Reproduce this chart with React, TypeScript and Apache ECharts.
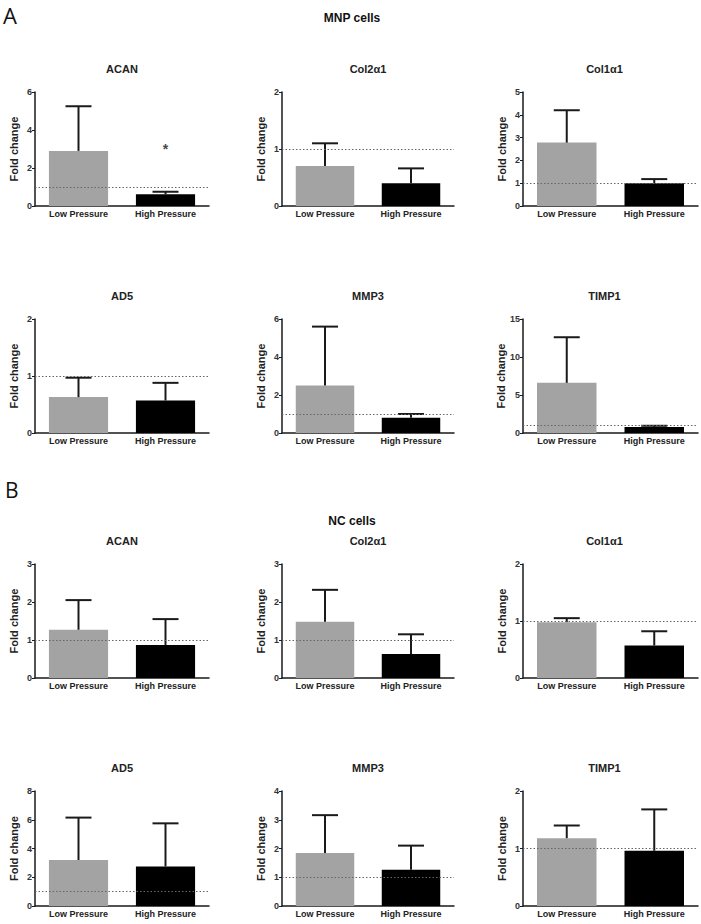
import React, { useEffect, useRef } from "react";
import * as echarts from "echarts";

const genes = ["ACAN", "Col2α1", "Col1α1", "AD5", "MMP3", "TIMP1"];
const categories = ["Low Pressure", "High Pressure"];

// MNP cells: [Low, High]
const mnpMean = [[2.9, 0.62], [0.70, 0.40], [2.78, 1.0], [0.63, 0.57], [2.5, 0.8], [6.6, 0.8]];
const mnpUpper = [[5.25, 0.75], [1.10, 0.66], [4.2, 1.18], [0.97, 0.88], [5.6, 1.0], [12.6, 0.95]];
const mnpMax = [6, 2, 5, 2, 6, 15];
const mnpInterval = [2, 1, 1, 1, 2, 5];

// NC cells: [Low, High]
const ncMean = [[1.27, 0.87], [1.48, 0.63], [0.98, 0.57], [3.2, 2.75], [1.84, 1.26], [1.18, 0.96]];
const ncUpper = [[2.05, 1.55], [2.32, 1.15], [1.05, 0.82], [6.15, 5.75], [3.16, 2.1], [1.4, 1.68]];
const ncMax = [3, 3, 2, 8, 4, 2];
const ncInterval = [1, 1, 1, 2, 1, 1];

// significance marks: [panelIndex, categoryIndex, yValue]
const stars = [[0, 1, 3.0]];

const referenceLevel = 1;
const sectionTitles = ["MNP cells", "NC cells"];
const panelLetters = ["A", "B"];

const colLeft = [35, 282, 523];
const colWidth = [174, 172, 175];
const rowTop = [92, 319, 564, 791];
const rowHeight = [114, 114, 114, 115];
const barColors = ["#a3a3a3", "#000000"];
const FONT = "Liberation Sans, Arial, sans-serif";

export default function App() {
  const ref = useRef<HTMLDivElement>(null);
  useEffect(() => {
    document.body.style.margin = "0";
    const chart = echarts.init(ref.current!, null, { renderer: "svg" });
    const grids: any[] = [];
    const xAxes: any[] = [];
    const yAxes: any[] = [];
    const series: any[] = [];
    const graphics: any[] = [];

    const panels: { mean: number[]; upper: number[]; max: number; interval: number; gene: string }[] = [];
    for (let i = 0; i < 6; i++) panels.push({ mean: mnpMean[i], upper: mnpUpper[i], max: mnpMax[i], interval: mnpInterval[i], gene: genes[i] });
    for (let i = 0; i < 6; i++) panels.push({ mean: ncMean[i], upper: ncUpper[i], max: ncMax[i], interval: ncInterval[i], gene: genes[i] });

    panels.forEach((p, idx) => {
      const row = Math.floor(idx / 3);
      const col = idx % 3;
      grids.push({ left: colLeft[col], top: rowTop[row], width: colWidth[col], height: rowHeight[row] });
      xAxes.push({
        type: "category",
        gridIndex: idx,
        data: categories,
        axisLine: { lineStyle: { color: "#1a1a1a", width: 1.5 } },
        axisTick: { show: false },
        axisLabel: { fontSize: 9, fontWeight: "bold", color: "#222", margin: 3, fontFamily: FONT },
      });
      yAxes.push({
        type: "value",
        gridIndex: idx,
        min: 0,
        max: p.max,
        interval: p.interval,
        name: "Fold change",
        nameLocation: "middle",
        nameGap: 16,
        nameTextStyle: { fontSize: 11, fontWeight: "bold", color: "#222", fontFamily: FONT },
        axisLine: { show: true, lineStyle: { color: "#1a1a1a", width: 1.5 } },
        axisTick: { show: true, length: 3, lineStyle: { color: "#1a1a1a", width: 1 } },
        axisLabel: { fontSize: 9, fontWeight: "bold", color: "#333", margin: 3, fontFamily: FONT },
        splitLine: { show: false },
      });
      series.push({
        type: "bar",
        xAxisIndex: idx,
        yAxisIndex: idx,
        barWidth: "68%",
        data: p.mean.map((v, i) => ({ value: v, itemStyle: { color: barColors[i] } })),
        markLine: {
          silent: true,
          symbol: "none",
          label: { show: false },
          lineStyle: { type: [1.5, 2], color: "#666", width: 1 },
          data: [{ yAxis: referenceLevel }],
        },
        z: 2,
      });
      series.push({
        type: "custom",
        xAxisIndex: idx,
        yAxisIndex: idx,
        data: p.mean.map((v, i) => [i, v, p.upper[i]]),
        renderItem: (params: any, api: any) => {
          const c = api.value(0);
          const lo = api.coord([c, api.value(1)]);
          const hi = api.coord([c, api.value(2)]);
          const half = 13;
          const style = { stroke: "#1a1a1a", lineWidth: 2 };
          return {
            type: "group",
            children: [
              { type: "line", shape: { x1: lo[0], y1: lo[1], x2: hi[0], y2: hi[1] }, style },
              { type: "line", shape: { x1: hi[0] - half, y1: hi[1], x2: hi[0] + half, y2: hi[1] }, style },
            ],
          };
        },
        z: 3,
      });
      const starData = stars.filter((s) => s[0] === idx).map((s) => [s[1], s[2]]);
      if (starData.length) {
        series.push({
          type: "scatter",
          xAxisIndex: idx,
          yAxisIndex: idx,
          symbolSize: 0,
          data: starData,
          label: { show: true, formatter: "*", position: "inside", fontSize: 14, fontWeight: "bold", color: "#111", fontFamily: FONT },
        });
      }
      graphics.push({
        type: "text",
        x: colLeft[col] + colWidth[col] / 2 + (col === 2 ? -6 : 0),
        y: rowTop[row] - 23,
        style: { text: p.gene, fontSize: 11, fontWeight: "bold", fill: "#222", fontFamily: FONT, textAlign: "center", textVerticalAlign: "middle" },
      });
    });

    graphics.push({ type: "text", x: 352, y: 18, style: { text: sectionTitles[0], fontSize: 12, fontWeight: "bold", fill: "#111", fontFamily: FONT, textAlign: "center", textVerticalAlign: "middle" } });
    graphics.push({ type: "text", x: 352, y: 521, style: { text: sectionTitles[1], fontSize: 12, fontWeight: "bold", fill: "#111", fontFamily: FONT, textAlign: "center", textVerticalAlign: "middle" } });
    graphics.push({ type: "text", x: 3, y: 4, style: { text: panelLetters[0], fontSize: 22, fill: "#111", fontFamily: "Open Sans, sans-serif", textVerticalAlign: "top" } });
    graphics.push({ type: "text", x: 5, y: 479, style: { text: panelLetters[1], fontSize: 21, fill: "#111", fontFamily: "Open Sans, sans-serif", textVerticalAlign: "top" } });

    chart.setOption({
      animation: false,
      backgroundColor: "#ffffff",
      grid: grids,
      xAxis: xAxes,
      yAxis: yAxes,
      series,
      graphic: graphics,
    });
    return () => chart.dispose();
  }, []);
  return <div ref={ref} style={{ width: 701, height: 924 }} />;
}
